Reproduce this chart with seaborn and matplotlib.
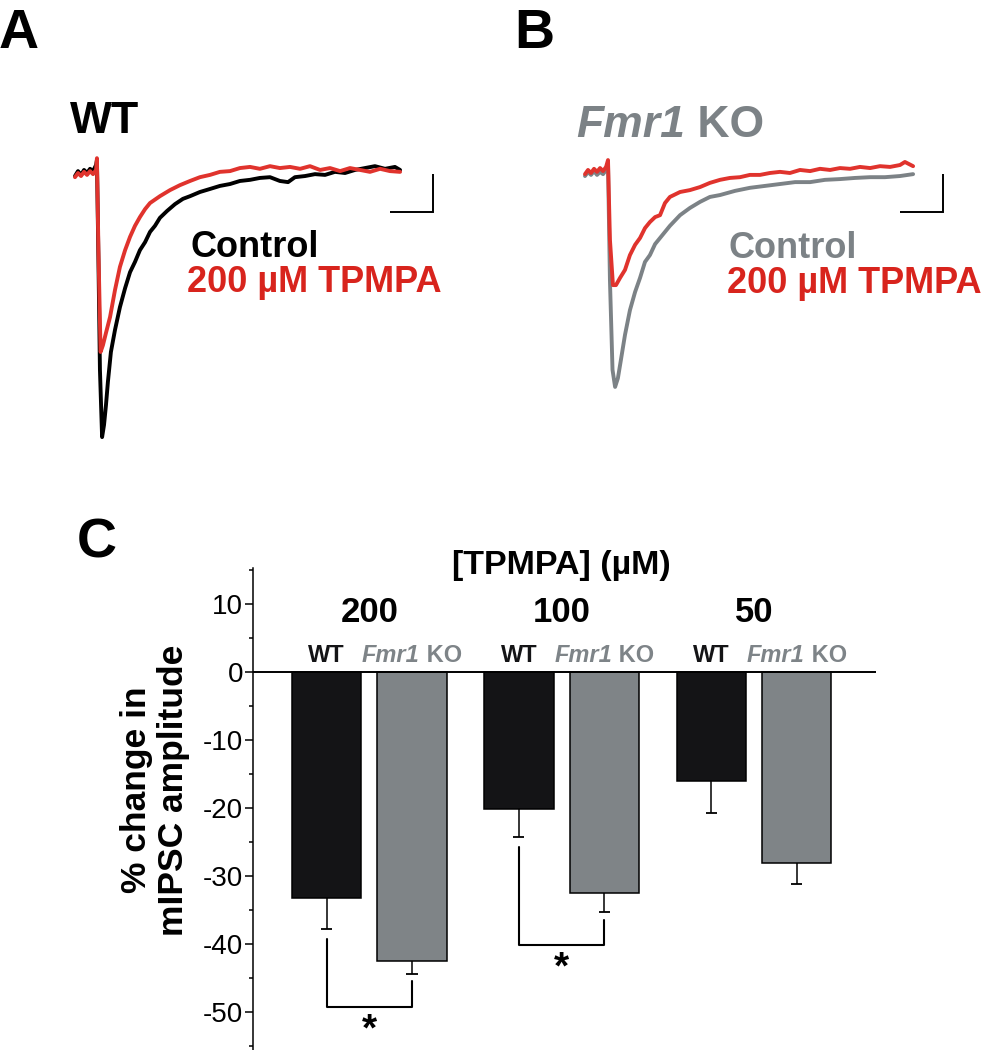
import numpy as np
import pandas as pd
import matplotlib.pyplot as plt
import seaborn as sns
from matplotlib.ticker import MultipleLocator, FixedLocator
from matplotlib.transforms import ScaledTranslation


# --- Data ---
# Panel C: % change in mIPSC amplitude (mean and SEM)
concentrations = ['200', '100', '50']
genotypes = ['WT', 'Fmr1 KO']
wt_change = [-33.2, -20.1, -16.0]
wt_sem = [4.6, 4.2, 4.7]
ko_change = [-42.5, -32.5, -28.1]
ko_sem = [1.9, 2.8, 3.1]
significant = ['200', '100']

# Panels A/B: example mIPSC traces, time (ms) and current (pA)
wt_ctrl_t = [0.0, 1.4, 2.8, 4.2, 5.6, 7.0, 8.4, 9.8, 10.2, 10.9, 11.6, 12.6, 13.5, 14.4, 15.3, 16.7, 18.6,
             20.9, 23.3, 25.6, 27.9, 30.2, 32.6, 34.9, 37.2, 39.5, 42.8, 46.5, 50.2, 53.5, 58.1, 62.8, 67.4,
             72.1, 76.7, 81.4, 86.0, 90.7, 95.3, 99.1, 102.3, 107.0, 111.6, 116.3, 120.9, 125.6, 130.2,
             134.9, 139.5, 144.2, 148.8, 151.2]
wt_ctrl_i = [-0.8, 0.5, -0.5, 0.8, 0.0, 1.1, 0.5, 2.1, 3.4, -22.9, -51.8, -69.5, -66.3, -61.1, -55.0, -47.1,
             -41.3, -35.3, -30.3, -26.1, -23.4, -20.3, -18.2, -15.5, -13.9, -11.8, -10.0, -8.2, -6.8, -6.1,
             -5.0, -4.2, -3.4, -2.9, -2.1, -1.8, -1.3, -1.1, -2.1, -2.4, -1.1, -0.8, -0.3, -0.5, 0.3, 0.0,
             0.8, 1.3, 1.8, 1.1, 1.6, 0.8]
wt_tpmpa_t = [0.0, 1.4, 2.8, 4.2, 5.6, 7.0, 8.4, 9.8, 10.2, 10.9, 11.9, 13.0, 14.4, 16.3, 18.6, 20.9, 23.3,
              25.6, 27.9, 30.2, 32.6, 34.9, 39.5, 44.2, 48.8, 53.5, 58.1, 62.8, 67.4, 72.1, 76.7, 81.4, 86.0,
              90.7, 95.3, 100.0, 104.7, 109.3, 114.0, 118.6, 123.3, 127.9, 132.6, 137.2, 141.9, 146.5, 151.2]
wt_tpmpa_i = [-1.1, 0.0, -0.8, 0.3, -0.5, 0.5, -0.3, 0.8, 3.9, -20.3, -47.1, -45.3, -42.1, -37.9, -30.8,
              -24.7, -20.3, -16.8, -13.9, -11.6, -9.5, -7.9, -6.1, -4.5, -3.2, -2.1, -1.1, -0.5, 0.3, 0.5,
              1.3, 1.6, 1.1, 1.8, 1.3, 1.6, 1.1, 1.8, 0.8, 1.3, 0.5, 1.3, 0.8, 0.3, 1.1, 0.5, 0.3]
ko_ctrl_t = [0.0, 1.4, 2.8, 4.2, 5.6, 7.0, 8.4, 9.8, 10.7, 11.6, 12.8, 14.0, 15.3, 16.7, 18.6, 20.9, 23.3,
             25.6, 27.9, 30.2, 32.6, 34.9, 39.5, 44.2, 48.8, 53.5, 58.1, 62.8, 69.8, 76.7, 83.7, 90.7, 97.7,
             104.7, 111.6, 118.6, 125.6, 132.6, 139.5, 146.5, 152.6]
ko_ctrl_i = [-0.8, 0.3, -0.5, 0.5, -0.5, 0.3, -0.3, 0.8, 2.6, -28.2, -51.8, -56.3, -54.0, -49.2, -42.6,
             -36.1, -31.3, -27.6, -23.4, -21.6, -18.7, -17.1, -13.9, -11.1, -9.2, -7.6, -6.3, -5.8, -4.7,
             -3.9, -3.4, -2.9, -2.4, -2.4, -1.8, -1.6, -1.3, -1.1, -1.1, -0.8, -0.3]
ko_tpmpa_t = [0.0, 1.4, 2.8, 4.2, 5.6, 7.0, 8.4, 9.8, 10.7, 11.6, 13.0, 14.4, 16.3, 18.6, 20.9, 23.3, 25.6,
              27.9, 30.2, 32.6, 34.9, 37.2, 39.5, 44.2, 48.8, 53.5, 58.1, 62.8, 67.4, 72.1, 76.7, 81.4, 86.0,
              90.7, 95.3, 100.0, 104.7, 109.3, 114.0, 118.6, 123.3, 127.9, 132.6, 137.2, 141.9, 146.5,
              148.8, 152.6]
ko_tpmpa_i = [-0.3, 0.8, 0.0, 1.1, 0.3, 1.3, 0.5, 1.6, 3.4, -17.6, -29.5, -29.5, -27.6, -25.5, -21.6,
              -18.9, -17.1, -14.5, -12.9, -11.6, -11.1, -7.9, -6.3, -5.0, -4.5, -3.7, -2.6, -1.8, -1.3,
              -1.1, -0.5, -0.5, 0.0, 0.3, 0.0, 0.8, 0.5, 1.1, 0.8, 1.3, 1.1, 1.6, 1.3, 1.8, 1.6, 2.1,
              2.9, 1.8]

# scale bar (ms, pA)
SCALE_MS, SCALE_PA = 20, 10

# --- Layout (pixels of the 993x1050 figure) ---
W, H, DPI = 993, 1050, 100
BAR_POS = [0, 1, 2.25, 3.25, 4.5, 5.5]
BAR_WIDTH = 0.81
PX_PER_MS, PX_PER_PA = 2.15, 3.8

BLACK = '#141416'
GREY = '#7e8488'
TRACE_GREY = '#7c8286'
RED_TRACE = '#e0332d'
RED_TEXT = '#d8241d'

sns.set_style('ticks')
plt.rcParams['font.family'] = ['Liberation Sans', 'DejaVu Sans']
plt.rcParams['axes.unicode_minus'] = False
for key in ['text.color', 'axes.labelcolor', 'xtick.color', 'ytick.color', 'axes.edgecolor']:
    plt.rcParams[key] = 'black'

fig = plt.figure(figsize=(W / DPI, H / DPI), dpi=DPI)


def px_axes(left, top, right, bottom):
    return fig.add_axes([left / W, 1 - bottom / H, (right - left) / W, (bottom - top) / H])


def trace_panel(t0_px, base_px, traces):
    left, top, right, bottom = t0_px - 20, 140, t0_px + 395, 470
    ax = px_axes(left, top, right, bottom)
    for t, i, c in traces:
        sns.lineplot(x=t, y=i, color=c, lw=2.8, sort=False, estimator=None, ax=ax)
    # scale bar
    xc = 166.5
    yb = -0.3 - SCALE_PA
    ax.plot([xc - SCALE_MS, xc, xc], [yb, yb, yb + SCALE_PA], color='black', lw=1.4,
            solid_capstyle='butt', solid_joinstyle='miter')
    ax.set_xlim((left - t0_px) / PX_PER_MS, (right - t0_px) / PX_PER_MS)
    ax.set_ylim((base_px - bottom) / PX_PER_PA, (base_px - top) / PX_PER_PA)
    ax.axis('off')
    return ax


trace_panel(75, 173, [(wt_ctrl_t, wt_ctrl_i, 'black'), (wt_tpmpa_t, wt_tpmpa_i, RED_TRACE)])
trace_panel(585, 173, [(ko_ctrl_t, ko_ctrl_i, TRACE_GREY), (ko_tpmpa_t, ko_tpmpa_i, RED_TRACE)])

# --- Panel C: bar chart ---
zero_px, unit_px, x0_px, step_px = 672, 6.8, 326.5, 85.5
axc = px_axes(253, 568, 876, 1050)

df = pd.DataFrame({
    'pos': BAR_POS,
    'conc': [c for c in concentrations for _ in genotypes],
    'genotype': genotypes * len(concentrations),
    'change': [v for pair in zip(wt_change, ko_change) for v in pair],
    'sem': [v for pair in zip(wt_sem, ko_sem) for v in pair],
})

sns.barplot(data=df, x='pos', y='change', hue='genotype', hue_order=genotypes,
            palette={'WT': BLACK, 'Fmr1 KO': GREY}, native_scale=True, dodge=False,
            width=BAR_WIDTH, errorbar=None, edgecolor='black', linewidth=1.1, legend=False, ax=axc)

# one-sided (downward) SEM bars
low = df['change'] - df['sem']
axc.vlines(df['pos'], df['change'], low, color='black', lw=1.1, zorder=4)
axc.hlines(low, df['pos'] - 0.065, df['pos'] + 0.065, color='black', lw=1.3, zorder=4)

axc.axhline(0, color='black', lw=1.4, zorder=5)

# significance brackets
for conc in significant:
    sub = df[df['conc'] == conc]
    (xa, xb), (la, lb) = sub['pos'].values, (sub['change'] - sub['sem']).values
    bottom = min(la, lb) - 4.8
    axc.plot([xa, xa, xb, xb], [la - 1.4, bottom, bottom, lb - 1.1], color='black', lw=1.5, zorder=4)
    axc.text((xa + xb) / 2, bottom - 5.0, '*', ha='center', va='baseline', fontsize=28,
             fontweight='bold')

axc.set_xlim((253 - x0_px) / step_px, (876 - x0_px) / step_px)
axc.set_ylim((zero_px - 1050) / unit_px, (zero_px - 568) / unit_px)
axc.yaxis.set_major_locator(FixedLocator(range(-50, 11, 10)))
axc.yaxis.set_minor_locator(MultipleLocator(5))
axc.tick_params(axis='y', which='major', length=5.6, width=1.1, pad=1.5, labelsize=20)
axc.tick_params(axis='y', which='minor', length=3.2, width=1.1)
axc.set_xticks([])
axc.set_xlabel('')
for s in ['top', 'right', 'bottom']:
    axc.spines[s].set_visible(False)
axc.spines['left'].set_linewidth(1.1)

axc.set_ylabel('% change in\nmIPSC amplitude', fontsize=25.5, fontweight='bold', linespacing=1.15)
axc.yaxis.set_label_coords((190 - 253) / 623, (1050 - 790) / 482)

# group / genotype labels above the bars
renderer = fig.canvas.get_renderer()


def fmr1_label(ax, x, y, size, color, center=False):
    t1 = ax.text(x, y, 'Fmr1', fontstyle='italic', fontweight='bold', fontsize=size, color=color,
                 ha='left', va='baseline')
    t2 = ax.annotate(' KO', xy=(1, 0), xycoords=t1, ha='left', va='bottom', fontweight='bold',
                     fontsize=size, color=color, annotation_clip=False)
    if center:
        w = t1.get_window_extent(renderer).width + t2.get_window_extent(renderer).width
        t1.set_transform(ax.transData + ScaledTranslation(-w / 2 / DPI, 0, fig.dpi_scale_trans))
    return t1


label_y = (zero_px - 662) / unit_px
conc_y = (zero_px - 622) / unit_px
for k, conc in enumerate(concentrations):
    xa, xb = BAR_POS[2 * k], BAR_POS[2 * k + 1]
    axc.text((xa + xb) / 2, conc_y, conc, ha='center', va='baseline', fontsize=25, fontweight='bold')
    axc.text(xa, label_y, 'WT', ha='center', va='baseline', fontsize=17, fontweight='bold', color=BLACK)
    fmr1_label(axc, xb, label_y, 17, GREY, center=True)

axc.text((BAR_POS[2] + BAR_POS[3]) / 2, (zero_px - 574) / unit_px, '[TPMPA] (µM)', ha='center',
         va='baseline', fontsize=24.5, fontweight='bold')

# --- Overlay for panel letters and trace labels (pixel coordinates) ---
ov = fig.add_axes([0, 0, 1, 1])
ov.set_xlim(0, W)
ov.set_ylim(H, 0)
ov.axis('off')

for letter, x, y in [('A', -1, 48), ('B', 514, 48), ('C', 77, 557)]:
    ov.text(x, y, letter, fontsize=40, fontweight='bold', ha='left', va='baseline')

ov.text(70, 133, 'WT', fontsize=32, fontweight='bold', ha='left', va='baseline')
ov.text(190, 257, 'Control', fontsize=26, fontweight='bold', ha='left', va='baseline')
ov.text(187, 292, '200 µM TPMPA', fontsize=26, fontweight='bold', color=RED_TEXT, ha='left',
        va='baseline')

fmr1_label(ov, 576, 137, 32, TRACE_GREY)
ov.text(728, 258, 'Control', fontsize=26, fontweight='bold', color=TRACE_GREY, ha='left',
        va='baseline')
ov.text(727, 293, '200 µM TPMPA', fontsize=26, fontweight='bold', color=RED_TEXT, ha='left',
        va='baseline')

fig.savefig('out.png', dpi=DPI)
